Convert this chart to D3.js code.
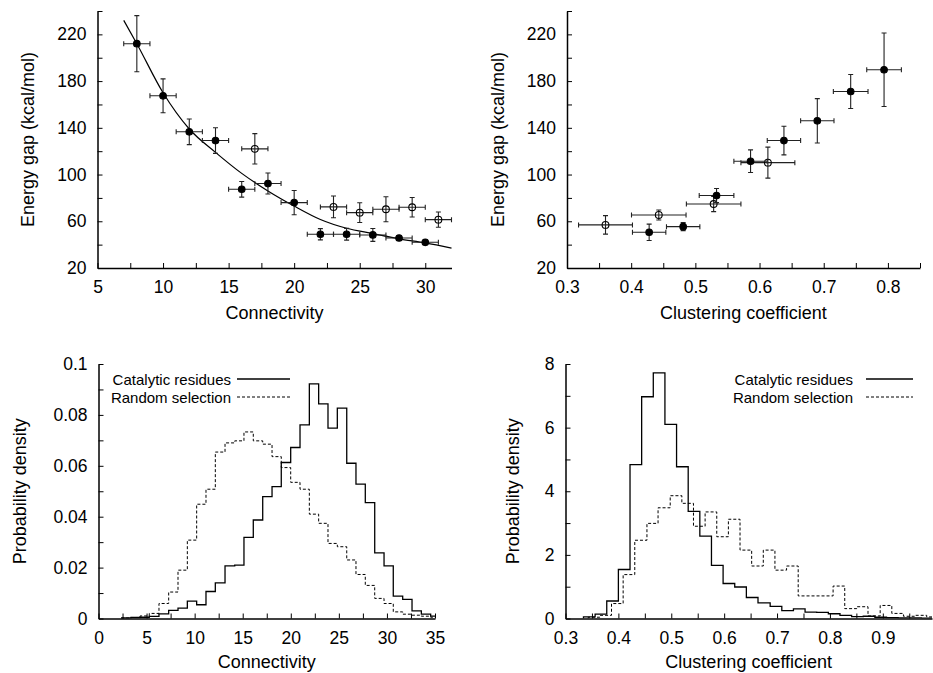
<!DOCTYPE html>
<html>
<head>
<meta charset="utf-8">
<script src="https://cdn.jsdelivr.net/npm/d3@7"></script>
<style>
  html, body { margin: 0; padding: 0; background: #fff; }
  svg { display: block; font-family: "Liberation Sans", Arial, Helvetica, sans-serif; }
  .tick text { font-size: 17.5px; fill: #000; }
  .ttl { font-size: 18px; fill: #000; }
  .leg { font-size: 15px; fill: #000; }
</style>
</head>
<body>
<script>
// ---------------- DATA ----------------
// Top-left: energy gap vs connectivity
const connFilledX   = [8, 10, 12, 14, 16, 18, 20, 22, 24, 26, 28, 30];
const connFilledY   = [212, 167.4, 136.6, 129.1, 87.4, 92.3, 76, 48.9, 48.9, 48.3, 45.7, 42];
const connFilledYErr= [24, 14.5, 11, 11, 6.7, 9, 10.4, 4.8, 5, 5.5, 2, 2];
const connFilledXErr= [1, 1, 1, 1, 1, 1, 1, 1, 1, 1, 1, 1];
const connOpenX     = [17, 23, 25, 27, 29, 31];
const connOpenY     = [122, 72.3, 67.4, 70.3, 72, 61.4];
const connOpenYErr  = [13, 9.3, 8.5, 10.7, 8.3, 6.5];
const connOpenXErr  = [1, 1, 1, 1, 1, 1];
// fitted curve, points
const fitX = [7, 8, 10, 12, 14, 16, 18, 20, 22, 24, 26, 28, 30, 32];
const fitY = [232, 212, 170, 139, 119, 101, 86, 73, 61.5, 54, 49.5, 45, 41.5, 37];

// Top-right: energy gap vs clustering coefficient
const ccFilledX    = [0.428, 0.481, 0.533, 0.586, 0.638, 0.690, 0.742, 0.794];
const ccFilledY    = [50.6, 55.4, 82, 111.4, 129.1, 146, 171.1, 189.7];
const ccFilledYErr = [7, 3.4, 6, 9.7, 12.3, 19, 14.6, 31.5];
const ccFilledXErr = [0.026, 0.026, 0.027, 0.026, 0.026, 0.026, 0.027, 0.027];
const ccOpenX      = [0.360, 0.443, 0.5285, 0.613];
const ccOpenY      = [56.9, 65.4, 74.8, 110.2];
const ccOpenYErr   = [7.9, 4.3, 6.5, 13.3];
const ccOpenXErr   = [0.042, 0.0425, 0.0425, 0.042];

// Bottom-left: connectivity histograms (bin edges and densities)
const connBinEdges = [2.41, 3.38, 4.32, 5.28, 6.29, 7.30, 8.27, 9.24, 10.21, 11.18, 12.15, 13.16,
  14.17, 15.13, 16.10, 17.08, 18.05, 19.01, 19.99, 20.96, 21.93, 22.90, 23.87, 24.84, 25.82,
  26.78, 27.75, 28.73, 29.70, 30.66, 31.64, 32.61, 33.58, 34.55, 35.5];
const connCatalytic = [0.0002, 0.0004, 0.0005, 0.0008, 0.0018, 0.0032, 0.0041, 0.0068, 0.0054,
  0.0106, 0.014, 0.0207, 0.021, 0.0319, 0.0387, 0.0479, 0.0518, 0.0613, 0.0672, 0.0761, 0.0922,
  0.0843, 0.0748, 0.0827, 0.061, 0.0528, 0.0455, 0.0258, 0.0207, 0.0088, 0.0075, 0.003, 0.0017, 0.0009];
const connRandom = [0.0002, 0.0004, 0.001, 0.002, 0.0059, 0.0104, 0.019, 0.0308, 0.0449, 0.0508,
  0.0654, 0.069, 0.0698, 0.0733, 0.0698, 0.0685, 0.0636, 0.0593, 0.0535, 0.0508, 0.041, 0.0374,
  0.0295, 0.0282, 0.023, 0.0173, 0.013, 0.0079, 0.0059, 0.0026, 0.0017, 0.0013, 0.0009, 0.0005];

// Bottom-right: clustering coefficient histograms
const ccCatEdges = [0.334, 0.356, 0.378, 0.400, 0.422, 0.444, 0.466, 0.488, 0.510, 0.532, 0.554,
  0.576, 0.598, 0.620, 0.642, 0.664, 0.687, 0.709, 0.731, 0.753, 0.775, 0.797, 0.819, 0.841,
  0.863, 0.885, 0.907, 0.929, 0.951, 0.973, 0.995];
const ccCatalytic = [0.05, 0.135, 0.55, 1.54, 4.84, 6.97, 7.72, 6.1, 4.77, 3.37, 2.59, 1.67, 1.1,
  0.99, 0.66, 0.49, 0.38, 0.25, 0.3, 0.2, 0.19, 0.15, 0.1, 0.06, 0.07, 0.04, 0.03, 0.02, 0.02, 0.01];
const ccRandEdges = [0.343, 0.365, 0.387, 0.409, 0.431, 0.454, 0.475, 0.498, 0.520, 0.542, 0.564,
  0.586, 0.608, 0.630, 0.652, 0.674, 0.696, 0.718, 0.740, 0.762, 0.784, 0.806, 0.828, 0.851,
  0.872, 0.895, 0.917, 0.939, 0.961, 0.983, 1.005];
const ccRandom = [0.04, 0.1, 0.47, 1.38, 2.46, 2.99, 3.48, 3.86, 3.62, 2.9, 3.35, 2.57, 3.12, 2.15,
  1.65, 2.15, 1.52, 1.65, 0.71, 0.71, 0.71, 1.02, 0.31, 0.37, 0.08, 0.41, 0.16, 0.07, 0.1, 0.05];

// Tick values / labels
const gapTicksMajor  = [20, 60, 100, 140, 180, 220];
const gapTicksMinor  = [40, 80, 120, 160, 200, 240];
const connTopMajor   = [5, 10, 15, 20, 25, 30];
const connTopMinor   = [7.5, 12.5, 17.5, 22.5, 27.5];
const ccTopMajor     = [0.3, 0.4, 0.5, 0.6, 0.7, 0.8];
const ccTopMinor     = [0.35, 0.45, 0.55, 0.65, 0.75, 0.85];
const connBotMajor   = [0, 5, 10, 15, 20, 25, 30, 35];
const connBotMinor   = [2.5, 7.5, 12.5, 17.5, 22.5, 27.5, 32.5];
const densTicksMajor = [0, 0.02, 0.04, 0.06, 0.08, 0.1];
const densTickLabels = ["0", "0.02", "0.04", "0.06", "0.08", "0.1"];
const densTicksMinor = [0.01, 0.03, 0.05, 0.07, 0.09];
const ccBotMajor     = [0.3, 0.4, 0.5, 0.6, 0.7, 0.8, 0.9];
const ccBotMinor     = [0.35, 0.45, 0.55, 0.65, 0.75, 0.85, 0.95];
const pdTicksMajor   = [0, 2, 4, 6, 8];
const pdTicksMinor   = [1, 3, 5, 7];
const legendLabels   = ["Catalytic residues", "Random selection"];

// ---------------- DRAWING ----------------
const W = 933, H = 673;
const svg = d3.select("body").append("svg").attr("width", W).attr("height", H);

function drawAxes(g, x, y, xMaj, xMin, yMaj, yMin, xFmt, yFmt) {
  const y0 = y.range()[0], x0 = x.range()[0];
  const xa = d3.axisBottom(x).tickValues(xMaj.concat(xMin)).tickSize(-5).tickSizeOuter(0)
    .tickPadding(13).tickFormat(v => xMaj.includes(v) ? xFmt(v) : "");
  const ya = d3.axisLeft(y).tickValues(yMaj.concat(yMin)).tickSize(-5).tickSizeOuter(0)
    .tickPadding(11).tickFormat(v => yMaj.includes(v) ? yFmt(v) : "");
  const gx = g.append("g").attr("transform", `translate(0,${y0})`).call(xa);
  const gy = g.append("g").attr("transform", `translate(${x0},0)`).call(ya);
  [gx, gy].forEach(a => {
    a.select(".domain").attr("stroke", "#000").attr("stroke-width", 1.5);
    a.selectAll(".tick line").attr("stroke", "#000").attr("stroke-width", 1);
    a.selectAll(".tick text").attr("font-family", null).attr("font-size", null);
    a.attr("font-size", null).attr("font-family", null);
  });
}

function xTitle(text, x, yPos) {
  const xr = x.range();
  svg.append("text").attr("class", "ttl").attr("x", (xr[0] + xr[1]) / 2).attr("y", yPos)
    .attr("text-anchor", "middle").attr("dominant-baseline", "central").text(text);
}
function yTitle(text, xPos, y) {
  const yr = y.range();
  const cy = (yr[0] + yr[1]) / 2;
  svg.append("text").attr("class", "ttl").attr("transform", `translate(${xPos},${cy}) rotate(-90)`)
    .attr("text-anchor", "middle").attr("dominant-baseline", "central").text(text);
}

function errorPoints(g, x, y, xs, ys, xe, ye, filled) {
  const cap = 2.5;
  const pts = xs.map((v, i) => ({ x: v, y: ys[i], ex: xe[i], ey: ye[i] }));
  const eg = g.append("g").attr("stroke", "#222").attr("stroke-width", 1.1).attr("fill", "none");
  pts.forEach(p => {
    const cx = x(p.x), cy = y(p.y);
    const yt = y(p.y + p.ey), yb = y(p.y - p.ey);
    const xl = x(p.x - p.ex), xr = x(p.x + p.ex);
    eg.append("path").attr("d",
      `M${cx},${yt}V${yb}M${cx - cap},${yt}H${cx + cap}M${cx - cap},${yb}H${cx + cap}` +
      `M${xl},${cy}H${xr}M${xl},${cy - cap}V${cy + cap}M${xr},${cy - cap}V${cy + cap}`);
  });
  g.append("g").selectAll("circle").data(pts).join("circle")
    .attr("cx", d => x(d.x)).attr("cy", d => y(d.y)).attr("r", filled ? 3.3 : 3.4)
    .attr("fill", filled ? "#000" : "none").attr("stroke", "#000").attr("stroke-width", 1.1);
}

function histPath(g, x, y, edges, vals, dashed, clipId) {
  const pts = [[edges[0], 0]];
  vals.forEach((v, i) => pts.push([edges[i], v]));
  pts.push([edges[edges.length - 1], vals[vals.length - 1]]);
  pts.push([edges[edges.length - 1], 0]);
  const line = d3.line().x(d => x(d[0])).y(d => y(d[1])).curve(d3.curveStepAfter);
  g.append("path").attr("d", line(pts)).attr("fill", "none")
    .attr("stroke", "#000").attr("stroke-width", dashed ? 1 : 1.3)
    .attr("stroke-dasharray", dashed ? "3,2" : null)
    .attr("clip-path", `url(#${clipId})`);
}

function clip(id, x, y) {
  const xr = x.range(), yr = y.range();
  svg.append("clipPath").attr("id", id).append("rect")
    .attr("x", xr[0]).attr("y", yr[1]).attr("width", xr[1] - xr[0]).attr("height", yr[0] - yr[1]);
}

function legend(g, textRight, lineX0, lineX1, rows) {
  rows.forEach((r, i) => {
    g.append("text").attr("class", "leg").attr("x", textRight).attr("y", r)
      .attr("text-anchor", "end").attr("dominant-baseline", "central").text(legendLabels[i]);
    g.append("line").attr("x1", lineX0).attr("x2", lineX1).attr("y1", r).attr("y2", r)
      .attr("stroke", "#000").attr("stroke-width", i ? 1 : 1.3)
      .attr("stroke-dasharray", i ? "3,2" : null);
  });
}

const fmtInt = d3.format("d");
const fmt1 = d3.format(".1f");

// ----- Panel 1: top-left -----
{
  const x = d3.scaleLinear().domain([5, 32]).range([97.5, 451.5]);
  const y = d3.scaleLinear().domain([20, 240]).range([268, 11]);
  const g = svg.append("g");
  drawAxes(g, x, y, connTopMajor, connTopMinor, gapTicksMajor, gapTicksMinor, fmtInt, fmtInt);
  const fit = d3.line().x((d, i) => x(fitX[i])).y(d => y(d)).curve(d3.curveMonotoneX);
  g.append("path").attr("d", fit(fitY)).attr("fill", "none").attr("stroke", "#000").attr("stroke-width", 1.2);
  errorPoints(g, x, y, connFilledX, connFilledY, connFilledXErr, connFilledYErr, true);
  errorPoints(g, x, y, connOpenX, connOpenY, connOpenXErr, connOpenYErr, false);
  xTitle("Connectivity", x, 313);
  yTitle("Energy gap (kcal/mol)", 28, y);
}

// ----- Panel 2: top-right -----
{
  const x = d3.scaleLinear().domain([0.3, 0.85]).range([567, 920]);
  const y = d3.scaleLinear().domain([20, 240]).range([268, 11]);
  const g = svg.append("g");
  drawAxes(g, x, y, ccTopMajor, ccTopMinor, gapTicksMajor, gapTicksMinor, fmt1, fmtInt);
  errorPoints(g, x, y, ccOpenX, ccOpenY, ccOpenXErr, ccOpenYErr, false);
  errorPoints(g, x, y, ccFilledX, ccFilledY, ccFilledXErr, ccFilledYErr, true);
  xTitle("Clustering coefficient", x, 313);
  yTitle("Energy gap (kcal/mol)", 498, y);
}

// ----- Panel 3: bottom-left -----
{
  const x = d3.scaleLinear().domain([0, 35]).range([98.5, 435]);
  const y = d3.scaleLinear().domain([0, 0.1]).range([618.5, 364]);
  const g = svg.append("g");
  clip("clipBL", x, y);
  drawAxes(g, x, y, connBotMajor, connBotMinor, densTicksMajor, densTicksMinor, fmtInt,
    v => densTickLabels[densTicksMajor.indexOf(v)]);
  histPath(g, x, y, connBinEdges, connRandom, true, "clipBL");
  histPath(g, x, y, connBinEdges, connCatalytic, false, "clipBL");
  legend(g, 231, 237, 290, [379, 397]);
  xTitle("Connectivity", x, 662);
  yTitle("Probability density", 20, y);
}

// ----- Panel 4: bottom-right -----
{
  const x = d3.scaleLinear().domain([0.3, 0.993]).range([565.5, 932]);
  const y = d3.scaleLinear().domain([0, 8]).range([618.5, 364]);
  const g = svg.append("g");
  clip("clipBR", x, y);
  drawAxes(g, x, y, ccBotMajor, ccBotMinor, pdTicksMajor, pdTicksMinor, fmt1, fmtInt);
  histPath(g, x, y, ccRandEdges, ccRandom, true, "clipBR");
  histPath(g, x, y, ccCatEdges, ccCatalytic, false, "clipBR");
  legend(g, 853, 866, 913, [379, 397]);
  xTitle("Clustering coefficient", x, 662);
  yTitle("Probability density", 513, y);
}
</script>
</body>
</html>
